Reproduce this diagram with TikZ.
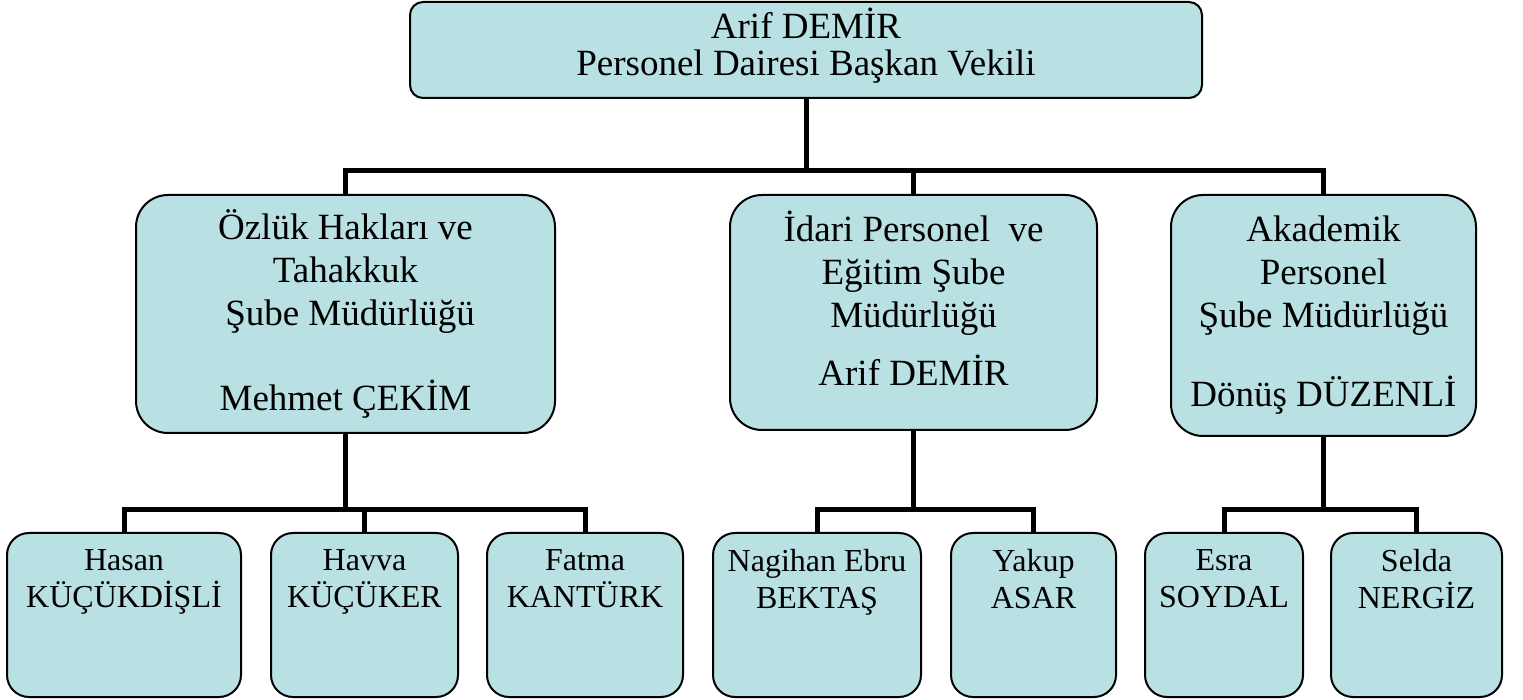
\documentclass[tikz,border=0pt]{standalone}
\usepackage{fontspec}
\setmainfont{Liberation Serif}
\usetikzlibrary{positioning, calc, backgrounds}
\definecolor{boxteal}{RGB}{185, 224, 226}
\tikzset{
    % Node Styles
    orgbox/.style={
        rectangle, draw=black, line width=1pt, fill=boxteal,
        inner sep=0pt, align=center
    },
    head/.style={orgbox, rounded corners=6.5pt,
        font=\fontsize{18.5}{18.5}\selectfont},
    dept/.style={orgbox, rounded corners=16pt,
        font=\fontsize{18.5}{21.5}\selectfont},
    staff/.style={orgbox, rounded corners=11pt, minimum height=82pt},
    staff_text/.style={anchor=north, inner sep=0pt, align=center,
        font=\fontsize{16}{18.5}\selectfont},
    % Connector Styles
    org_line/.style={line width=2.5pt, color=black}
}
\begin{document}
\begin{tikzpicture}[x=0.5pt, y=-0.5pt]
    \useasboundingbox (0,0) rectangle (1523,700);

    % --- 1. Head ---
    \node [head, minimum width=396pt, minimum height=48pt, text depth=8pt] (head) at (806,50) {
        Arif DEMİR \\ Personel Dairesi Başkan Vekili
    };

    % --- 2. Departments ---
    \node [dept, minimum width=209.5pt, minimum height=119pt] (ozluk) at (345.5,314) {
        Özlük Hakları ve \\ Tahakkuk \\ \ Şube Müdürlüğü \\[21pt] Mehmet ÇEKİM
    };
    \node [dept, minimum width=183.5pt, minimum height=117.5pt, text depth=14pt] (idari) at (913.5,312.5) {
        İdari Personel\ \ ve \\ Eğitim Şube \\ Müdürlüğü \\[7.5pt] Arif DEMİR
    };
    \node [dept, minimum width=152.5pt, minimum height=120.5pt] (akademik) at (1323.5,315.5) {
        Akademik \\ Personel \\ Şube Müdürlüğü \\[18pt] Dönüş DÜZENLİ
    };

    % --- 3. Staff ---
    \node [staff, minimum width=117pt] (hasan) at (124,615) {};
    \node [staff, minimum width=93.5pt] (havva) at (364.5,615) {};
    \node [staff, minimum width=98pt] (fatma) at (585,615) {};
    \node [staff, minimum width=104pt] (nagihan) at (817,615) {};
    \node [staff, minimum width=82.5pt] (yakup) at (1033.5,615) {};
    \node [staff, minimum width=79pt] (esra) at (1224,615) {};
    \node [staff, minimum width=85.5pt] (selda) at (1416.5,615) {};

    \node [staff_text, yshift=-8.5pt] (hasan_t) at (hasan.north) {Hasan \\ KÜÇÜKDİŞLİ};
    \node [staff_text, yshift=-8.5pt] (havva_t) at (havva.north) {Havva \\ KÜÇÜKER};
    \node [staff_text, yshift=-8.5pt] (fatma_t) at (fatma.north) {Fatma \\ KANTÜRK};
    \node [staff_text, yshift=-8.5pt] (nagihan_t) at (nagihan.north) {Nagihan Ebru \\ BEKTAŞ};
    \node [staff_text, yshift=-8.5pt] (yakup_t) at (yakup.north) {Yakup \\ ASAR};
    \node [staff_text, yshift=-8.5pt] (esra_t) at (esra.north) {Esra \\ SOYDAL};
    \node [staff_text, yshift=-8.5pt] (selda_t) at (selda.north) {Selda \\ NERGİZ};

    % --- 4. Connectors ---
    \coordinate (bus_top) at (0,170.5);
    \coordinate (bus_low) at (0,509.5);

    \begin{scope}[on background layer]
        \draw [org_line] (head.south) -- (head.south |- bus_top);
        \draw [org_line] (ozluk.north) |- (akademik.north |- bus_top) -- (akademik.north);
        \draw [org_line] (idari.north) -- (idari.north |- bus_top);

        \draw [org_line] (ozluk.south) -- (ozluk.south |- bus_low);
        \draw [org_line] (hasan.north) |- (fatma.north |- bus_low) -- (fatma.north);
        \draw [org_line] (havva.north) -- (havva.north |- bus_low);

        \draw [org_line] (idari.south) -- (idari.south |- bus_low);
        \draw [org_line] (nagihan.north) |- (yakup.north |- bus_low) -- (yakup.north);

        \draw [org_line] (akademik.south) -- (akademik.south |- bus_low);
        \draw [org_line] (esra.north) |- (selda.north |- bus_low) -- (selda.north);
    \end{scope}

\end{tikzpicture}
\end{document}
